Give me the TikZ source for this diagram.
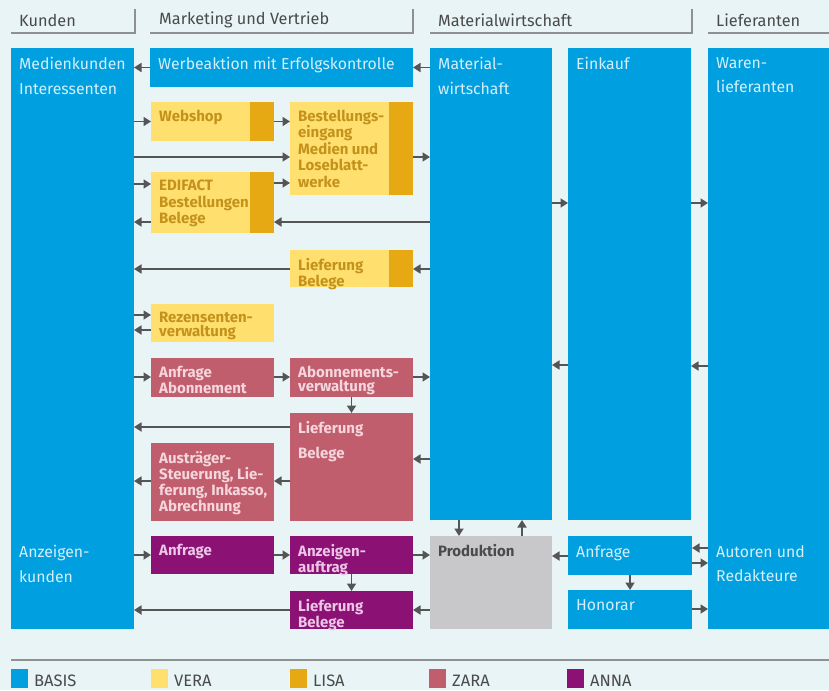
\documentclass[tikz,border=0pt]{standalone}
\usepackage{fontspec}
\setmainfont{Fira Sans}
\usetikzlibrary{arrows.meta}

\definecolor{bgcol}{HTML}{E8F4F5}
\definecolor{basis}{HTML}{009FDF}
\definecolor{vera}{HTML}{FFE06E}
\definecolor{lisa}{HTML}{E6A914}
\definecolor{zara}{HTML}{C05E6E}
\definecolor{anna}{HTML}{8B1274}
\definecolor{prodgray}{HTML}{C8C8CA}
\definecolor{arrgray}{HTML}{555555}
\definecolor{headgray}{HTML}{4A4A4A}
\definecolor{rulegray}{HTML}{8E9092}
\definecolor{bluetxt}{HTML}{D4EEFA}
\definecolor{ochre}{HTML}{C4921C}
\definecolor{pinktxt}{HTML}{F6D6DC}
\definecolor{lilatxt}{HTML}{EDC6E6}

\newcommand\lead[2]{\fontsize{#1}{#2}\selectfont}

\tikzset{
  blk/.style 2 args={anchor=north west, inner sep=0pt, outer sep=0pt,
    minimum width=#1, minimum height=#2},
  stripe/.style={path picture={\fill[lisa]
    ([xshift=-24pt]path picture bounding box.north east)
    rectangle (path picture bounding box.south east);}},
  lbl/.style={anchor=north west, align=left, inner sep=0pt, xshift=8pt, yshift=-9pt},
  lblb/.style={lbl, yshift=1pt},
  tb/.style={label={[lbl, text=bluetxt, font=\lead{15.8}{24.5}]north west:{#1}}},
  ty/.style 2 args={label={[lblb, text=ochre, font=\bfseries\lead{15}{#1}]north west:{#2}}},
  tz/.style 2 args={label={[lblb, text=pinktxt, font=\bfseries\lead{15}{#1}]north west:{#2}}},
  ta/.style 2 args={label={[lblb, text=lilatxt, font=\bfseries\lead{15}{#1}]north west:{#2}}},
  head/.style={anchor=west, inner sep=0pt, text=headgray, font=\lead{16.3}{18}},
  hline/.style={draw=rulegray, line width=1.2pt},
  key/.style={anchor=north west, inner sep=0pt, minimum width=17pt, minimum height=19pt},
  keytxt/.style={anchor=west, inner sep=0pt, text=headgray, font=\lead{16.5}{18}},
  arr/.style={draw=arrgray, line width=1.7pt, -{Triangle[length=7.5pt,width=9pt]}},
}

\begin{document}
\begin{tikzpicture}[x=1pt, y=-1pt]
  \fill[bgcol] (0,0) rectangle (829,690);
  \useasboundingbox (0,0) rectangle (829,690);

  % Spaltenkoepfe
  \node[head] (hkunden) at (19,20) {Kunden};
  \node[head] (hmarketing) at (159,20) {Marketing und Vertrieb};
  \node[head] (hmaterial) at (438,20) {Materialwirtschaft};
  \node[head] (hlieferanten) at (716,20) {Lieferanten};
  \draw[hline] (11,33) -- (135,33) -- (135,9);
  \draw[hline] (150,33) -- (413,33) -- (413,9);
  \draw[hline] (430,33) -- (692,33) -- (692,9);
  \draw[hline] (708,33) -- (829,33);

  % BASIS
  \node[blk={123}{581}, fill=basis, tb={Medienkunden\\Interessenten}] (medien) at (11,48) {};
  \node[blk={123}{93}, tb={Anzeigen-\\kunden}] (anzkunden) at (11,536) {};
  \node[blk={263}{39}, fill=basis, tb={Werbeaktion mit Erfolgskontrolle}] (werbe) at (150,48) {};
  \node[blk={122}{472}, fill=basis, tb={Material-\\wirtschaft}] (mat) at (430,48) {};
  \node[blk={123}{472}, fill=basis, tb={Einkauf}] (eink) at (568,48) {};
  \node[blk={121}{581}, fill=basis, tb={Waren-\\lieferanten}] (waren) at (708,48) {};
  \node[blk={121}{93}, tb={Autoren und\\Redakteure}] (autoren) at (708,536) {};
  \node[blk={124}{39}, fill=basis, tb={Anfrage}] (anfrB) at (568,536) {};
  \node[blk={124}{39}, fill=basis, tb={Honorar}] (honorar) at (568,590) {};
  \node[blk={122}{93}, fill=prodgray,
    label={[lblb, text=headgray, font=\bfseries\lead{15}{16}]north west:Produktion}] (prod) at (430,536) {};

  % VERA / LISA
  \node[blk={123}{39}, fill=vera, stripe, ty={14}{Webshop}] (webshop) at (151,102) {};
  \node[blk={123}{93}, fill=vera, stripe,
    ty={16.4}{Bestellungs-\\eingang\\Medien und\\Loseblatt-\\werke}] (bestell) at (290,102) {};
  \node[blk={123}{61}, fill=vera, stripe, ty={16.5}{EDIFACT\\Bestellungen\\Belege}] (edifact) at (151,172) {};
  \node[blk={123}{37}, fill=vera, stripe, ty={14}{Lieferung\\Belege}] (liefY) at (290,250) {};
  \node[blk={123}{38}, fill=vera, ty={14}{Rezensenten-\\verwaltung}] (rezens) at (151,304) {};

  % ZARA
  \node[blk={123}{39}, fill=zara, tz={14}{Anfrage\\Abonnement}] (anfrAbo) at (151,358) {};
  \node[blk={123}{39}, fill=zara, tz={14}{Abonnements-\\verwaltung}] (abo) at (290,358) {};
  \node[blk={123}{108}, fill=zara, tz={25}{Lieferung\\Belege}] (liefR) at (290,413) {};
  \node[blk={123}{78}, fill=zara,
    tz={16}{Austräger-\\Steuerung, Lie-\\ferung, Inkasso,\\Abrechnung}] (austr) at (151,443) {};

  % ANNA
  \node[blk={123}{38}, fill=anna, ta={14}{Anfrage}] (anfrP) at (151,536) {};
  \node[blk={123}{38}, fill=anna, ta={14}{Anzeigen-\\auftrag}] (anzauf) at (290,536) {};
  \node[blk={123}{38}, fill=anna, ta={14}{Lieferung\\Belege}] (liefP) at (290,591) {};

  % Pfeile
  \draw[arr] (werbe.west) -- (medien.east |- werbe.west);
  \draw[arr] (mat.west |- werbe.west) -- (werbe.east);
  \draw[arr] (medien.east |- webshop.west) -- (webshop.west);
  \draw[arr] (webshop.east) -- (bestell.west |- webshop.east);
  \draw[arr] (medien.east |- 0,157) -- (bestell.west |- 0,157);
  \draw[arr] (medien.east |- 0,184) -- (edifact.west |- 0,184);
  \draw[arr] (edifact.east |- 0,183) -- (bestell.west |- 0,183);
  \draw[arr] (bestell.east |- 0,157) -- (mat.west |- 0,157);
  \draw[arr] (mat.west |- 0,222) -- (edifact.east |- 0,222);
  \draw[arr] (edifact.west |- 0,222) -- (medien.east |- 0,222);
  \draw[arr] (mat.east |- 0,203) -- (eink.west |- 0,203);
  \draw[arr] (eink.east |- 0,203) -- (waren.west |- 0,203);
  \draw[arr] (mat.west |- 0,269) -- (liefY.east |- 0,269);
  \draw[arr] (liefY.west |- 0,269) -- (medien.east |- 0,269);
  \draw[arr] (medien.east |- 0,315) -- (rezens.west |- 0,315);
  \draw[arr] (rezens.west |- 0,330) -- (medien.east |- 0,330);
  \draw[arr] (medien.east |- 0,377) -- (anfrAbo.west |- 0,377);
  \draw[arr] (anfrAbo.east |- 0,377) -- (abo.west |- 0,377);
  \draw[arr] (abo.east |- 0,377) -- (mat.west |- 0,377);
  \draw[arr] (eink.west |- 0,365) -- (mat.east |- 0,365);
  \draw[arr] (waren.west |- 0,366) -- (eink.east |- 0,366);
  \draw[arr] (abo.south) -- (liefR.north);
  \draw[arr] (liefR.west |- 0,427) -- (medien.east |- 0,427);
  \draw[arr] (mat.west |- 0,459) -- (liefR.east |- 0,459);
  \draw[arr] (liefR.west |- 0,481) -- (austr.east |- 0,481);
  \draw[arr] (austr.west |- 0,481) -- (medien.east |- 0,481);
  \draw[arr] (mat.south -| 459,0) -- (prod.north -| 459,0);
  \draw[arr] (prod.north -| 522,0) -- (mat.south -| 522,0);
  \draw[arr] (medien.east |- 0,555) -- (anfrP.west |- 0,555);
  \draw[arr] (anfrP.east |- 0,555) -- (anzauf.west |- 0,555);
  \draw[arr] (anzauf.east |- 0,555) -- (prod.west |- 0,555);
  \draw[arr] (anzauf.south) -- (liefP.north);
  \draw[arr] (liefP.west |- 0,610) -- (medien.east |- 0,610);
  \draw[arr] (prod.west |- 0,610) -- (liefP.east |- 0,610);
  \draw[arr] (anfrB.west |- 0,556) -- (prod.east |- 0,556);
  \draw[arr] (anfrB.south) -- (honorar.north);
  \draw[arr] (waren.west |- 0,548) -- (anfrB.east |- 0,548);
  \draw[arr] (anfrB.east |- 0,563) -- (waren.west |- 0,563);
  \draw[arr] (honorar.east |- 0,609) -- (waren.west |- 0,609);

  % Legende
  \draw[hline] (11,660) -- (829,660);
  \node[key, fill=basis] (kbasis) at (11,669) {};
  \node[keytxt] (tbasis) at (34,681) {BASIS};
  \node[key, fill=vera] (kvera) at (151,669) {};
  \node[keytxt] (tvera) at (174,681) {VERA};
  \node[key, fill=lisa] (klisa) at (290,669) {};
  \node[keytxt] (tlisa) at (313,681) {LISA};
  \node[key, fill=zara] (kzara) at (429,669) {};
  \node[keytxt] (tzara) at (452,681) {ZARA};
  \node[key, fill=anna] (kanna) at (567,669) {};
  \node[keytxt] (tanna) at (590,681) {ANNA};
\end{tikzpicture}
\end{document}
